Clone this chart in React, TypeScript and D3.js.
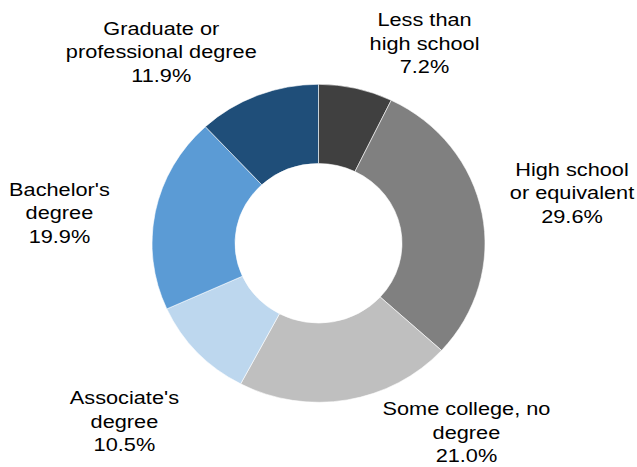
import React, { useEffect, useRef } from 'react';
import * as d3 from 'd3';

// Educational attainment shares (%)
const categories = [
  'Less than high school',
  'High school or equivalent',
  'Some college, no degree',
  "Associate's degree",
  "Bachelor's degree",
  'Graduate or professional degree',
];
const values = [7.2, 29.6, 21.0, 10.5, 19.9, 11.9];
const labelLines = [
  ['Less than', 'high school'],
  ['High school', 'or equivalent'],
  ['Some college, no', 'degree'],
  ["Associate's", 'degree'],
  ["Bachelor's", 'degree'],
  ['Graduate or', 'professional degree'],
];
const colors = ['#404040', '#808080', '#bfbfbf', '#bdd7ee', '#5b9bd5', '#1f4e79'];
// hand-tuned offsets from the label arc centroid (Excel best-fit placement)
const labelNudge: [number, number][] = [
  [50, 32],
  [8, -6],
  [105, -47],
  [-12, 14],
  [-14, 16],
  [-66, 30],
];

const W = 637;
const H = 467;

export default function App() {
  const svgRef = useRef<SVGSVGElement>(null);

  useEffect(() => {
    if (!svgRef.current) return;
    const svg = d3.select(svgRef.current);
    svg.selectAll('*').remove();

    const cx = 318.5;
    const cy = 243.3;
    const outerR = 166.5;
    const innerR = 83.5;
    const squash = 0.955; // the source picture is slightly wider than tall
    const labelR = 250;

    const items = categories.map((c, i) => ({ name: c, value: values[i], idx: i }));
    const pie = d3.pie<any>().value(d => d.value).sort(null);
    const arcs = pie(items);

    const arc = d3.arc<any>().innerRadius(innerR).outerRadius(outerR);
    const labelArc = d3.arc<any>().innerRadius(labelR).outerRadius(labelR);

    const g = svg.append('g')
      .attr('transform', `translate(${cx},${cy}) scale(1,${squash})`);

    g.selectAll('path.slice')
      .data(arcs)
      .enter().append('path')
      .attr('class', 'slice')
      .attr('d', arc)
      .attr('fill', d => colors[d.data.idx])
      .attr('stroke', '#ffffff')
      .attr('stroke-width', 0.6);

    // labels
    const fmt = d3.format('.1f');
    const lh = 23.5;
    const fs = 20;
    const sx = 1.087;
    const sy = 0.957;
    const labels = svg.append('g');

    arcs.forEach(a => {
      const i = a.data.idx;
      const [lx, ly] = labelArc.centroid(a);
      const px = cx + lx + labelNudge[i][0];
      const py = cy + ly * squash + labelNudge[i][1];
      const lines = [...labelLines[i], fmt(a.data.value) + '%'];
      const n = lines.length;
      lines.forEach((t, k) => {
        const base = py + (k - (n - 1) / 2) * lh + 7;
        labels.append('text')
          .attr('transform', `translate(${px},${base}) scale(${sx},${sy})`)
          .attr('text-anchor', 'middle')
          .attr('font-family', '"Liberation Sans", Arial, sans-serif')
          .attr('font-size', fs)
          .attr('fill', '#000000')
          .text(t);
      });
    });
  }, []);

  return (
    <svg
      ref={svgRef}
      width={W}
      height={H}
      style={{ position: 'absolute', left: 0, top: 0, background: '#ffffff' }}
    />
  );
}
